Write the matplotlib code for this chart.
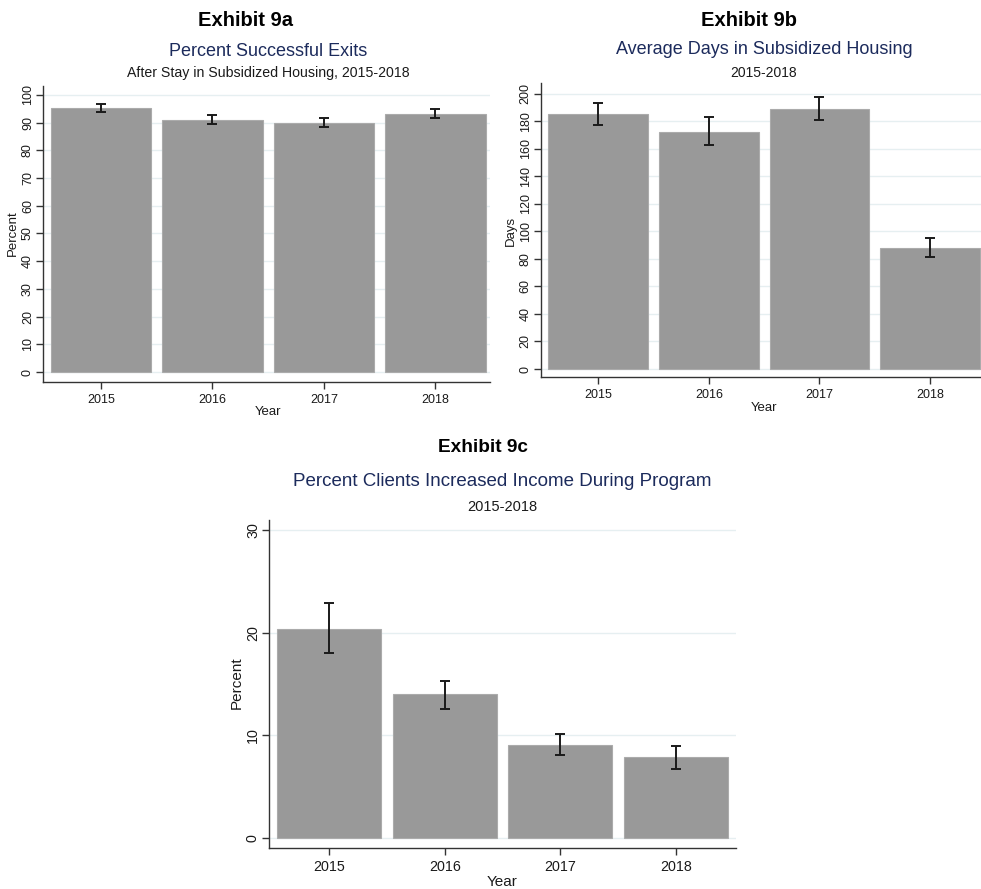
import matplotlib
matplotlib.use("Agg")
import matplotlib.pyplot as plt
import numpy as np

plt.rcParams['font.family'] = ['Liberation Sans', 'DejaVu Sans']

W, H = 981, 889

years = ["2015", "2016", "2017", "2018"]

# Exhibit 9a: percent successful exits
exits_pct = [95.1, 90.9, 90.0, 93.1]
exits_lo = [93.7, 89.6, 88.3, 91.5]
exits_hi = [96.6, 92.8, 91.6, 95.0]

# Exhibit 9b: average days in subsidized housing
days_avg = [185.4, 172.2, 188.9, 88.1]
days_lo = [177.2, 162.7, 180.6, 81.6]
days_hi = [193.2, 183.3, 197.6, 94.9]

# Exhibit 9c: percent clients with increased income
income_pct = [20.35, 14.05, 9.06, 7.89]
income_lo = [18.0, 12.6, 8.08, 6.7]
income_hi = [22.9, 15.3, 10.1, 9.0]

yticks_a = list(range(0, 101, 10))
yticks_b = list(range(0, 201, 20))
yticks_c = [0, 10, 20, 30]

BAR = "#999999"
NAVY = "#1c2b5c"
GRID = "#e6eff1"

fig = plt.figure(figsize=(W / 100, H / 100), dpi=100)
fig.patch.set_facecolor("white")


def make_axes(l, r, b, t):
    return fig.add_axes([l / W, 1 - b / H, (r - l) / W, (b - t) / H])


def draw_panel(ax, vals, lo, hi, yticks, xlim, ylim, ylabel, ylab_xy, xlab_xy,
               tick_fs, lab_fs):
    x = np.arange(len(years))
    vals = np.asarray(vals)
    err = np.vstack([vals - np.asarray(lo), np.asarray(hi) - vals])
    for yt in yticks:
        ax.axhline(yt, color=GRID, lw=1.0, zorder=0)
    ax.bar(x, vals, width=0.9, color=BAR, edgecolor="#ababab", linewidth=0.8,
           zorder=2)
    ax.errorbar(x, vals, yerr=err, fmt="none", ecolor="#1a1a1a", elinewidth=1.4,
                capsize=3.5, capthick=1.4, zorder=3)
    ax.set_xlim(*xlim)
    ax.set_ylim(*ylim)
    ax.set_xticks(x)
    ax.set_xticklabels(years)
    ax.set_yticks(yticks)
    ax.set_yticklabels([str(v) for v in yticks])
    for s in ("top", "right"):
        ax.spines[s].set_visible(False)
    for s in ("left", "bottom"):
        ax.spines[s].set_color("#333333")
        ax.spines[s].set_linewidth(1.0)
    ax.tick_params(axis="both", direction="out", length=5, width=1.0,
                   color="#333333", labelsize=tick_fs, labelcolor="#1a1a1a")
    ax.tick_params(axis="x", pad=3.5)
    ax.tick_params(axis="y", pad=1.5)
    for lbl in ax.get_yticklabels():
        lbl.set_rotation(90)
        lbl.set_va("center")
        lbl.set_ha("right")
    ax.set_ylabel(ylabel, fontsize=lab_fs, color="#1a1a1a")
    ax.set_xlabel("Year", fontsize=lab_fs, color="#1a1a1a")
    ax.yaxis.set_label_coords(ylab_xy[0] / W, 1 - ylab_xy[1] / H,
                              transform=fig.transFigure)
    ax.xaxis.set_label_coords(xlab_xy[0] / W, 1 - xlab_xy[1] / H,
                              transform=fig.transFigure)
    ax.set_facecolor("none")


def text_px(x, y, s, **kw):
    fig.text(x / W, 1 - y / H, s, ha="center", va="center", **kw)


# Panel a
ax_a = make_axes(43, 490, 381.7, 86)
draw_panel(ax_a, exits_pct, exits_lo, exits_hi, yticks_a,
           (-0.52, 3.49), (-3.5, 103.2), "Percent", (19, 233), (268, 406),
           9, 9.5)
text_px(246, 20, "Exhibit 9a", fontsize=14.5, fontweight="bold", color="black")
text_px(268, 51, "Percent Successful Exits", fontsize=13, color=NAVY)
text_px(268, 73, "After Stay in Subsidized Housing, 2015-2018", fontsize=10.2,
        color="#1a1a1a")

# Panel b
ax_b = make_axes(540.7, 981, 377.3, 83.3)
draw_panel(ax_b, days_avg, days_lo, days_hi, yticks_b,
           (-0.52, 3.46), (-6.0, 207.5), "Days", (517, 231), (764, 402),
           9, 9.5)
text_px(749, 20, "Exhibit 9b", fontsize=14.5, fontweight="bold", color="black")
text_px(764, 50, "Average Days in Subsidized Housing", fontsize=13, color=NAVY)
text_px(764, 73, "2015-2018", fontsize=10, color="#1a1a1a")

# Panel c
ax_c = make_axes(269, 736, 848, 520)
draw_panel(ax_c, income_pct, income_lo, income_hi, yticks_c,
           (-0.52, 3.52), (-0.97, 30.96), "Percent", (244, 683), (502, 875),
           10.3, 11)
text_px(483, 447, "Exhibit 9c", fontsize=13.7, fontweight="bold", color="black")
text_px(502, 482, "Percent Clients Increased Income During Program",
        fontsize=13.5, color=NAVY)
text_px(502, 507, "2015-2018", fontsize=10.5, color="#1a1a1a")

fig.savefig("out.png", dpi=100, facecolor="white")
